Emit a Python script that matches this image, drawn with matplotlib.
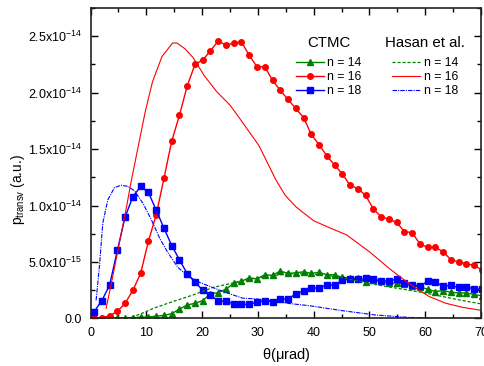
import matplotlib
matplotlib.use("Agg")
import matplotlib.pyplot as plt
import numpy as np
from matplotlib.ticker import MultipleLocator

plt.rcParams['font.family'] = ['Liberation Sans', 'DejaVu Sans']
plt.rcParams['mathtext.fontset'] = 'custom'
plt.rcParams['mathtext.rm'] = 'Liberation Sans'

# CTMC angles (urad)
theta = [0.65, 2.04, 3.43, 4.82, 6.21, 7.60, 8.99, 10.38, 11.77, 13.16,
         14.55, 15.94, 17.33, 18.72, 20.11, 21.50, 22.89, 24.28, 25.67, 27.06,
         28.45, 29.84, 31.23, 32.62, 34.01, 35.40, 36.79, 38.18, 39.57, 40.96,
         42.35, 43.74, 45.13, 46.52, 47.91, 49.30, 50.69, 52.08, 53.47, 54.86,
         56.25, 57.64, 59.03, 60.42, 61.81, 63.20, 64.59, 65.98, 67.37, 68.76,
         70.15]

# CTMC values in units of 1e-15
ctmc_n14 = [None, None, 0.0, 0.06, 0.06, 0.06, 0.12, 0.12, 0.2, 0.27,
            0.42, 0.83, 1.19, 1.34, 1.58, 2.17, 2.29, 2.59, 3.13, 3.3,
            3.6, 3.5, 3.87, 3.81, 4.2, 3.99, 4.04, 4.13, 3.99, 4.08,
            3.87, 3.87, 3.63, 3.57, 3.57, 3.21, 3.39, 3.28, 3.1, 3.15,
            3.04, 2.86, 2.8, 2.59, 2.38, 2.47, 2.32, 2.26, 2.26, 2.12,
            2.0]
ctmc_n16 = [0.0, 0.06, 0.24, 0.63, 1.34, 2.5, 4.0, 6.85, 9.17, 12.4,
            15.7, 18.0, 20.6, 22.5, 22.9, 23.7, 24.6, 24.2, 24.4, 24.5,
            23.3, 22.3, 22.3, 21.1, 20.2, 19.4, 18.6, 17.8, 16.3, 15.4,
            14.4, 13.6, 12.8, 11.8, 11.5, 10.9, 9.7, 9.0, 8.8, 8.5,
            7.7, 7.6, 6.6, 6.3, 6.3, 5.9, 5.2, 5.0, 4.85, 4.7,
            4.3]
ctmc_n18 = [0.6, 1.58, 2.97, 6.04, 9.0, 10.8, 11.7, 11.16, 9.6, 8.0,
            6.46, 5.2, 3.96, 3.2, 2.52, 2.08, 1.54, 1.52, 1.3, 1.25,
            1.25, 1.43, 1.58, 1.49, 1.72, 1.72, 2.17, 2.44, 2.68, 2.7,
            2.95, 2.95, 3.4, 3.48, 3.46, 3.54, 3.48, 3.33, 3.33, 3.46,
            3.15, 3.0, 2.88, 3.28, 3.19, 2.86, 2.92, 2.74, 2.74, 2.65,
            2.6]

# Hasan et al. curves
hasan14_x = [6.5, 8.9, 11.3, 14.8, 18.4, 22.0, 25.6, 28.5, 32.0, 35.5,
             39.0, 42.0, 45.1, 48.0, 51.1, 54.0, 57.1, 60.0, 63.1, 66.5, 70.1]
hasan14_y = [0.0, 0.38, 0.9, 1.5, 2.08, 2.75, 3.15, 3.45, 3.75, 3.95,
             3.95, 3.85, 3.6, 3.3, 3.0, 2.75, 2.5, 2.25, 1.94, 1.6, 1.28]
hasan16_x = [2.8, 4.1, 5.3, 6.5, 7.25, 9.8, 11.1, 12.8, 14.7, 15.5,
             16.9, 18.4, 20.4, 22.6, 25.0, 27.2, 30.2, 33.2, 34.9, 36.9,
             40.0, 43.0, 45.9, 50.0, 53.6, 56.2, 58.3, 60.7, 63.7, 66.7, 70.1]
hasan16_y = [0.9, 4.0, 7.0, 10.0, 12.05, 18.3, 20.95, 23.2, 24.4, 24.4,
             23.9, 23.1, 21.5, 20.1, 18.9, 17.4, 15.3, 12.3, 10.9, 9.85,
             8.65, 8.0, 7.4, 5.9, 4.4, 3.42, 2.68, 1.94, 1.34, 0.98, 0.71]
hasan18_x = [1.0, 1.6, 2.2, 3.1, 4.3, 5.5, 6.7, 7.9, 9.4, 10.9,
             12.4, 13.9, 15.7, 17.5, 19.3, 20.8, 23.8, 27.2, 29.8, 33.2,
             35.8, 39.2, 45.1, 51.1, 57.1, 62.7, 70.1]
hasan18_y = [1.6, 4.6, 8.45, 10.5, 11.6, 11.8, 11.7, 11.3, 10.2, 8.75,
             7.1, 5.8, 4.5, 3.75, 3.24, 2.95, 2.38, 1.8, 1.72, 1.5,
             1.31, 1.13, 0.69, 0.3, 0.09, 0.02, 0.0]

yticks = [0.0, 5e-15, 1e-14, 1.5e-14, 2e-14, 2.5e-14]
yticklabels = ['0.0', r'$\mathregular{5.0x10^{-15}}$', r'$\mathregular{1.0x10^{-14}}$',
               r'$\mathregular{1.5x10^{-14}}$', r'$\mathregular{2.0x10^{-14}}$',
               r'$\mathregular{2.5x10^{-14}}$']
xticks = [0, 10, 20, 30, 40, 50, 60, 70]

GREEN = '#008000'
RED = '#ff0000'
BLUE = '#0000ff'
S = 1e-15

def scale(v):
    return [np.nan if a is None else a * S for a in v]

fig = plt.figure(figsize=(4.84, 3.66), dpi=100)
ax = fig.add_axes([0.187, 0.130, 0.807, 0.848])

l1, = ax.plot(theta, scale(ctmc_n14), '-', color=GREEN, lw=1.0, marker='^', ms=4.8, mec=GREEN, mfc=GREEN)
l2, = ax.plot(theta, scale(ctmc_n16), '-', color=RED, lw=1.0, marker='o', ms=4.0, mec=RED, mfc=RED)
l3, = ax.plot(theta, scale(ctmc_n18), '-', color=BLUE, lw=1.0, marker='s', ms=3.8, mec=BLUE, mfc=BLUE)
h1, = ax.plot(hasan14_x, scale(hasan14_y), '--', color=GREEN, lw=0.9, dashes=(2.5, 1.5))
h2, = ax.plot(hasan16_x, scale(hasan16_y), '-', color=RED, lw=0.8)
h3, = ax.plot(hasan18_x, scale(hasan18_y), '-.', color=BLUE, lw=0.8, dashes=(4, 1, 1, 1))

ax.set_xlim(0, 70)
ax.set_ylim(0, 2.75e-14)
ax.set_xticks(xticks)
ax.set_xticklabels([str(t) for t in xticks])
ax.set_yticks(yticks)
ax.set_yticklabels(yticklabels)
ax.xaxis.set_minor_locator(MultipleLocator(5))
ax.yaxis.set_minor_locator(MultipleLocator(2.5e-15))
ax.tick_params(which='both', direction='in', top=True, right=True, labelsize=9, pad=6)
ax.tick_params(which='major', length=5, width=1.0)
ax.tick_params(which='minor', length=3, width=1.0)
for sp in ax.spines.values():
    sp.set_linewidth(1.2)
    sp.set_color('#222222')

ax.set_xlabel(r'$\mathregular{\theta(\mu rad)}$', fontsize=10.5, labelpad=5)
fig.text(0.037, 0.483, r'$\mathregular{p_{transv}}$ (a.u.)', rotation=90, fontsize=9.8,
         ha='center', va='center')

leg1 = ax.legend([l1, l2, l3], ['n = 14', 'n = 16', 'n = 18'], title='CTMC',
                 frameon=False, fontsize=8.8, title_fontsize=10.8, handlelength=2.3,
                 handletextpad=0.3, labelspacing=0.18, borderpad=0, borderaxespad=0,
                 loc='upper left', bbox_to_anchor=(0.525, 0.91))
leg1._legend_box.sep = 5
ax.add_artist(leg1)
leg2 = ax.legend([h1, h2, h3], ['n = 14', 'n = 16', 'n = 18'], title='Hasan et al.',
                 frameon=False, fontsize=8.8, title_fontsize=10.8, handlelength=2.3,
                 handletextpad=0.3, labelspacing=0.18, borderpad=0, borderaxespad=0,
                 loc='upper left', bbox_to_anchor=(0.755, 0.91))
leg2._legend_box.sep = 5

fig.savefig('out.png', dpi=100)
